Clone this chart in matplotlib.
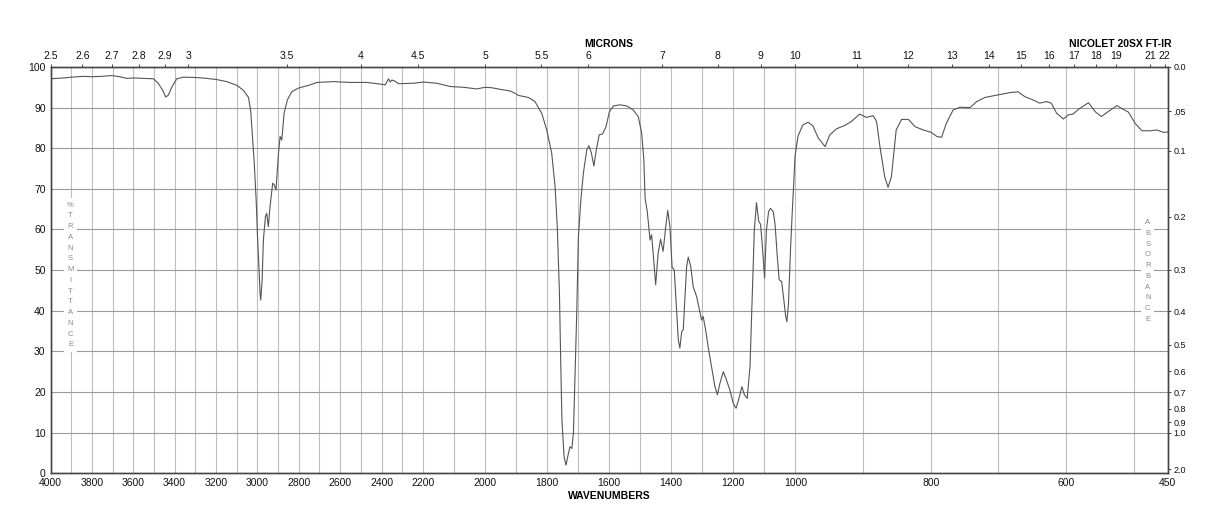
import numpy as np
import matplotlib
matplotlib.use('Agg')
import matplotlib.pyplot as plt

plt.rcParams['font.family'] = ['Liberation Sans', 'DejaVu Sans']

# ---- spectrum data (wavenumber cm-1, % transmittance) ----
wavenumber = [
    4000, 3938, 3900, 3841, 3800, 3750, 3704, 3664, 3632, 3600, 3551, 3503, 3479, 3455, 3443, 3430,
    3414, 3390, 3358, 3293, 3245, 3196, 3148, 3100, 3068, 3043, 3032, 3027, 3016, 3006, 3000, 2993,
    2987, 2984, 2977, 2971, 2961, 2955, 2947, 2939, 2926, 2919, 2910, 2898, 2890, 2882, 2871, 2855,
    2834, 2802, 2745, 2713, 2632, 2552, 2471, 2407, 2382, 2366, 2358, 2350, 2338, 2318, 2310, 2246,
    2198, 2155, 2112, 2069, 2026, 2000, 1978, 1951, 1919, 1905, 1892, 1860, 1839, 1817, 1801, 1785,
    1774, 1767, 1760, 1756, 1752, 1745, 1739, 1731, 1726, 1720, 1715, 1710, 1704, 1699, 1691, 1683,
    1672, 1665, 1657, 1649, 1642, 1632, 1621, 1610, 1599, 1586, 1565, 1543, 1522, 1506, 1495, 1488,
    1484, 1477, 1468, 1463, 1458, 1450, 1442, 1434, 1426, 1418, 1411, 1404, 1397, 1390, 1382, 1377,
    1372, 1366, 1361, 1356, 1350, 1345, 1337, 1329, 1318, 1309, 1302, 1297, 1289, 1281, 1270, 1259,
    1251, 1243, 1232, 1222, 1211, 1200, 1191, 1183, 1172, 1164, 1155, 1146, 1139, 1132, 1125, 1118,
    1112, 1106, 1099, 1093, 1086, 1080, 1071, 1065, 1058, 1052, 1044, 1037, 1031, 1027, 1022, 1015,
    1009, 1005, 1001, 996, 989, 981, 974, 966, 956, 949, 939, 927, 917, 905, 895, 885,
    880, 875, 868, 863, 858, 851, 843, 833, 823, 811, 799, 791, 784, 777, 767, 757,
    742, 732, 720, 708, 695, 683, 671, 661, 649, 639, 629, 622, 614, 604, 597, 590,
    580, 567, 557, 548, 538, 525, 516, 508, 498, 488, 476, 466, 456, 450,
]
transmittance = [
    97.1, 97.3, 97.5, 97.7, 97.6, 97.7, 97.9, 97.6, 97.2, 97.3, 97.2, 97.1, 96.0, 94.0, 92.6, 93.1,
    95.0, 97.1, 97.5, 97.4, 97.2, 96.9, 96.4, 95.5, 94.3, 92.5, 89.0, 85.3, 77.1, 67.3, 59.0, 50.8,
    44.3, 42.6, 47.6, 57.4, 63.2, 64.0, 60.7, 65.6, 71.4, 71.0, 69.7, 78.8, 82.9, 82.0, 88.6, 91.9,
    93.9, 94.8, 95.6, 96.2, 96.4, 96.2, 96.2, 95.8, 95.6, 97.1, 96.3, 96.8, 96.6, 95.9, 95.9, 96.0,
    96.3, 96.0, 95.2, 95.0, 94.6, 95.0, 94.9, 94.5, 94.1, 93.6, 93.0, 92.5, 91.5, 88.6, 84.5, 78.8,
    70.5, 60.7, 44.3, 27.8, 13.1, 4.0, 2.0, 4.9, 6.5, 6.1, 9.8, 23.7, 40.2, 58.2, 67.3, 73.8,
    79.6, 80.6, 78.8, 75.6, 79.2, 83.3, 83.5, 85.3, 89.0, 90.4, 90.7, 90.4, 89.4, 87.8, 83.7, 77.1,
    67.7, 64.4, 57.4, 58.7, 54.2, 46.4, 54.2, 57.6, 54.6, 60.3, 64.7, 60.7, 50.7, 50.0, 39.4, 32.8,
    30.8, 34.9, 35.3, 42.7, 50.9, 53.2, 50.9, 45.9, 43.5, 40.2, 37.7, 38.6, 35.3, 31.2, 26.2, 21.3,
    19.3, 22.1, 25.0, 23.0, 20.5, 17.2, 16.0, 18.0, 21.3, 19.3, 18.4, 26.2, 42.7, 59.9, 66.6, 62.0,
    61.3, 55.8, 48.0, 59.9, 64.4, 65.2, 64.4, 61.1, 53.3, 47.6, 47.2, 42.7, 38.6, 37.3, 41.8, 55.8,
    65.6, 71.4, 78.0, 83.0, 85.7, 86.4, 85.5, 82.5, 80.4, 83.3, 84.8, 85.6, 86.6, 88.4, 87.6, 88.0,
    86.6, 80.4, 73.0, 70.4, 73.0, 84.5, 87.1, 87.1, 85.3, 84.5, 83.9, 82.9, 82.7, 86.1, 89.4, 90.1,
    90.0, 91.5, 92.5, 92.9, 93.3, 93.7, 93.9, 92.7, 91.9, 91.1, 91.5, 91.1, 88.6, 87.2, 88.2, 88.4,
    89.8, 91.2, 89.0, 87.8, 89.0, 90.5, 89.6, 88.9, 86.1, 84.3, 84.3, 84.5, 83.9, 84.0,
]

# ---- axis labels ----
wn_ticks = [4000, 3800, 3600, 3400, 3200, 3000, 2800, 2600, 2400, 2200, 2000,
            1800, 1600, 1400, 1200, 1000, 800, 600, 450]
wn_grid = list(range(3900, 450, -100))
micron_ticks = [2.5, 2.6, 2.7, 2.8, 2.9, 3, 3.5, 4, 4.5, 5, 5.5, 6, 7, 8, 9, 10,
                11, 12, 13, 14, 15, 16, 17, 18, 19, 21, 22]
micron_labels = ['2.5', '2.6', '2.7', '2.8', '2.9', '3', '3.5', '4', '4.5', '5', '5.5', '6',
                 '7', '8', '9', '10', '11', '12', '13', '14', '15', '16', '17', '18', '19',
                 '21', '22']
absorbance_ticks = [0.0, 0.05, 0.1, 0.2, 0.3, 0.4, 0.5, 0.6, 0.7, 0.8, 0.9, 1.0, 2.0]
absorbance_labels = ['0.0', '.05', '0.1', '0.2', '0.3', '0.4', '0.5', '0.6', '0.7',
                     '0.8', '0.9', '1.0', '2.0']
pct_ticks = [0, 10, 20, 30, 40, 50, 60, 70, 80, 90, 100]


# piecewise-linear wavenumber scale (three equal-width panels)
def fwd(x):
    x = np.asarray(x, dtype=float)
    return np.where(x >= 2200, (4000 - x) / 1800,
                    np.where(x >= 1000, 1 + (2200 - x) / 1200, 2 + (1000 - x) / 550))


def inv(p):
    p = np.asarray(p, dtype=float)
    return np.where(p <= 1, 4000 - p * 1800,
                    np.where(p <= 2, 2200 - (p - 1) * 1200, 1000 - (p - 2) * 550))


W, H = 1218, 528
fig = plt.figure(figsize=(W / 100, H / 100), dpi=100)
L, R, T, B = 50.5, 1167.7, 67.0, 473.2
ax = fig.add_axes([L / W, 1 - B / H, (R - L) / W, (B - T) / H])
ax.set_xscale('function', functions=(fwd, inv))
ax.set_xlim(450, 4000)
ax.set_ylim(0, 100)

ax.plot(wavenumber, transmittance, color='#555555', lw=0.8, zorder=3)

ax.set_xticks(wn_ticks, labels=[str(v) for v in wn_ticks])
ax.set_xticks(wn_grid, minor=True)
ax.set_yticks(pct_ticks, labels=[str(v) for v in pct_ticks])
ax.grid(which='both', axis='x', color='#bdbdbd', lw=0.8)
ax.grid(which='major', axis='y', color='#9a9a9a', lw=0.8)
ax.tick_params(which='both', length=0, labelsize=7.5, pad=3.5, colors='#111111')

spine_col = '#444444'
for s in ax.spines.values():
    s.set_color(spine_col)
    s.set_linewidth(0.9)

# top micron axis
axt = ax.twiny()
axt.set_xscale('function', functions=(fwd, inv))
axt.set_xlim(450, 4000)
axt.set_xticks([10000.0 / m for m in micron_ticks], labels=micron_labels)
axt.xaxis.set_minor_locator(matplotlib.ticker.NullLocator())
axt.tick_params(axis='x', length=2.5, width=0.7, labelsize=7.5, pad=1.5,
                color=spine_col, labelcolor='#111111')
for s in axt.spines.values():
    s.set_color(spine_col)
    s.set_linewidth(0.9)

# right absorbance axis
axr = ax.twinx()
axr.set_ylim(0, 100)
axr.set_yticks([100 * 10 ** (-a) for a in absorbance_ticks], labels=absorbance_labels)
axr.tick_params(axis='y', length=2.5, width=0.7, labelsize=6.5, pad=1.5,
                color=spine_col, labelcolor='#111111')
for s in axr.spines.values():
    s.set_color(spine_col)
    s.set_linewidth(0.9)

fig.text(609 / W, 1 - 44 / H, 'MICRONS', ha='center', va='center',
         fontsize=7.5, fontweight='bold')
fig.text(1120 / W, 1 - 44 / H, 'NICOLET 20SX FT-IR', ha='center', va='center',
         fontsize=7.5, fontweight='bold')
fig.text(609 / W, 1 - 496 / H, 'WAVENUMBERS', ha='center', va='center',
         fontsize=7.5, fontweight='bold')

fig.text(70.5 / W, 1 - 275 / H, '\n'.join('%TRANSMITTANCE'), ha='center', va='center',
         fontsize=5.5, color='#8a8a8a', linespacing=1.75, zorder=5,
         bbox=dict(facecolor='white', edgecolor='none', pad=2.5))
fig.text(1147.7 / W, 1 - 271 / H, '\n'.join('ABSORBANCE'), ha='center', va='center',
         fontsize=5.5, color='#8a8a8a', linespacing=1.75, zorder=5,
         bbox=dict(facecolor='white', edgecolor='none', pad=2.5))

fig.savefig('out.png', dpi=100)
